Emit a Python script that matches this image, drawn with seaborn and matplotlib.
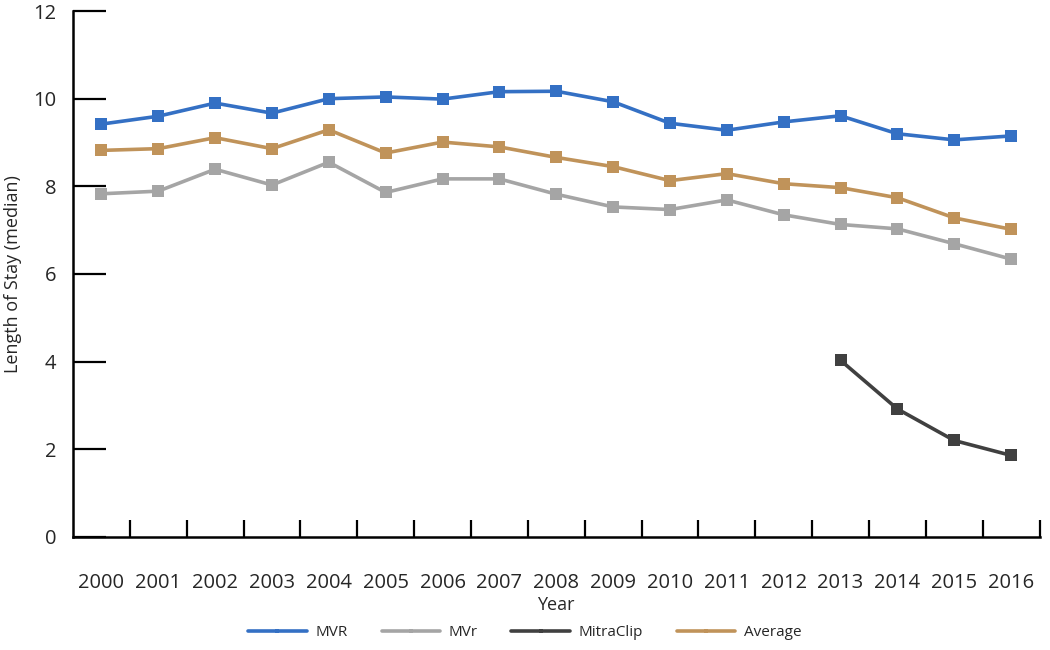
import matplotlib
matplotlib.use('Agg')
import matplotlib.pyplot as plt
from matplotlib.lines import Line2D
import numpy as np
import pandas as pd
import seaborn as sns

years = list(range(2000, 2017))
mvr = [9.42, 9.60, 9.90, 9.67, 10.0, 10.04, 9.99, 10.16, 10.17, 9.93, 9.44,
       9.28, 9.47, 9.61, 9.20, 9.06, 9.15]
mvr_repair = [7.83, 7.89, 8.39, 8.03, 8.55, 7.86, 8.17, 8.17, 7.82, 7.53, 7.47,
              7.69, 7.35, 7.13, 7.03, 6.69, 6.34]
mitraclip = [np.nan] * 13 + [4.03, 2.92, 2.20, 1.86]
average = [8.82, 8.86, 9.11, 8.86, 9.29, 8.76, 9.01, 8.90, 8.66, 8.45, 8.13,
           8.29, 8.06, 7.97, 7.74, 7.28, 7.02]

series_names = ['MVR', 'MVr', 'MitraClip', 'Average']
colors = ['#3470C4', '#A5A5A5', '#404040', '#C0935A']

df = pd.DataFrame({'Year': years, 'MVR': mvr, 'MVr': mvr_repair,
                   'MitraClip': mitraclip, 'Average': average})
long = df.melt(id_vars='Year', var_name='series', value_name='los').dropna()

sns.set_style('white')
plt.rcParams['font.family'] = ['Open Sans', 'DejaVu Sans']

fig = plt.figure(figsize=(10.5, 6.5), dpi=100)
ax = fig.add_axes([0.0695, 0.174, 0.9205, 0.809])

palette = dict(zip(series_names, colors))
sns.lineplot(data=long, x='Year', y='los', hue='series', hue_order=series_names,
             palette=palette, marker='s', markersize=9, markeredgewidth=0,
             linewidth=2.6, legend=False, ax=ax)

ax.set_xlim(1999.5, 2016.5)
ax.set_ylim(0, 12)
ax.set_yticks(range(0, 13, 2))
ax.set_xticks(years)
ax.set_xticklabels([str(y) for y in years], fontsize=14.5)
ax.set_xticks(np.arange(2000.5, 2017, 1), minor=True)
ax.tick_params(axis='x', which='major', bottom=True, length=0, pad=26)
ax.tick_params(axis='x', which='minor', bottom=True, direction='in', length=12,
               width=1.6, color='black')
ax.tick_params(axis='y', which='major', left=True, direction='in', length=24,
               width=1.6, color='black', labelsize=14.5, pad=12)

sns.despine(ax=ax)
for side in ['left', 'bottom']:
    ax.spines[side].set_linewidth(1.8)
    ax.spines[side].set_color('black')

ax.set_xlabel('Year', fontsize=13, labelpad=2)
ax.set_ylabel('Length of Stay (median)', fontsize=13, labelpad=8)

handles = [Line2D([0], [0], color=c, lw=2.6, marker='s', markersize=3.5,
                  markeredgewidth=0) for c in colors]
fig.legend(handles, series_names, loc='center', bbox_to_anchor=(0.5, 0.027),
           ncol=4, frameon=False, fontsize=11, handlelength=3.8,
           columnspacing=2.2, handletextpad=0.6)

fig.savefig('out.png', dpi=100)
